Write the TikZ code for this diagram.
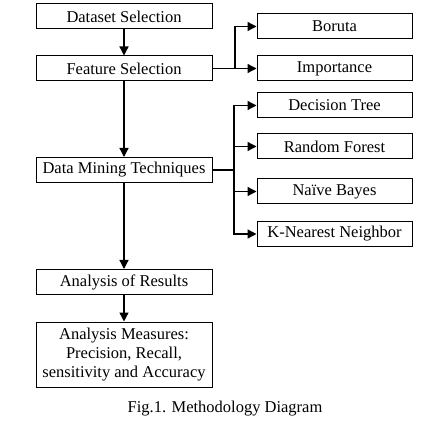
\documentclass[tikz,border=0pt]{standalone}
\usepackage{fontspec}
\setmainfont{Liberation Serif}
\usetikzlibrary{arrows.meta}

\begin{document}
\begin{tikzpicture}[x=1pt,y=1pt,
  stage/.style={draw,line width=1pt,minimum width=176pt,minimum height=25pt,inner sep=0pt,align=center,font=\fontsize{16.5}{19}\selectfont},
  method/.style={stage,minimum width=155pt},
  flow/.style={-{Triangle[length=9pt,width=9pt]},line width=1.3pt}]
  \useasboundingbox (0,0) rectangle (441,431);
  % main pipeline
  \node[stage] (dataset) at (124,414.5) {Dataset Selection};
  \node[stage] (feature) at (124,362.5) {Feature Selection};
  \node[stage] (mining) at (124,261) {Data Mining Techniques};
  \node[stage] (results) at (124,149) {Analysis of Results};
  \node[stage,minimum height=65pt] (measures) at (124,76.5) {Analysis Measures:\\ Precision, Recall,\\ sensitivity and Accuracy};
  % side branches
  \node[method] (boruta) at (334.5,404.5) {Boruta};
  \node[method] (importance) at (334.5,362.5) {Importance};
  \node[method] (dtree) at (334.5,325.5) {Decision Tree};
  \node[method] (rforest) at (334.5,284.5) {Random Forest};
  \node[method] (nbayes) at (334.5,239.5) {Naïve Bayes};
  \node[method] (knn) at (334.5,197) {K-Nearest Neighbor};
  \coordinate (fsplit) at (235,362.5);
  \coordinate (msplit) at (234,261);
  \path[flow]
    (dataset) edge (feature)
    (feature) edge (mining)
    (mining) edge (results)
    (results) edge (measures);
  \draw[line width=1.3pt] (feature.east) -- (fsplit);
  \draw[line width=1.3pt] (mining.east) -- (msplit);
  \draw[flow] (fsplit) |- (boruta);
  \draw[flow] (fsplit) -- (importance);
  \draw[flow] (msplit) |- (dtree);
  \draw[flow] (msplit) |- (rforest);
  \draw[flow] (msplit) |- (nbayes);
  \draw[flow] (msplit) |- (knn);
  \node[font=\fontsize{16.5}{19}\selectfont] (caption) at (225,22) {Fig.1. Methodology Diagram};
\end{tikzpicture}
\end{document}
